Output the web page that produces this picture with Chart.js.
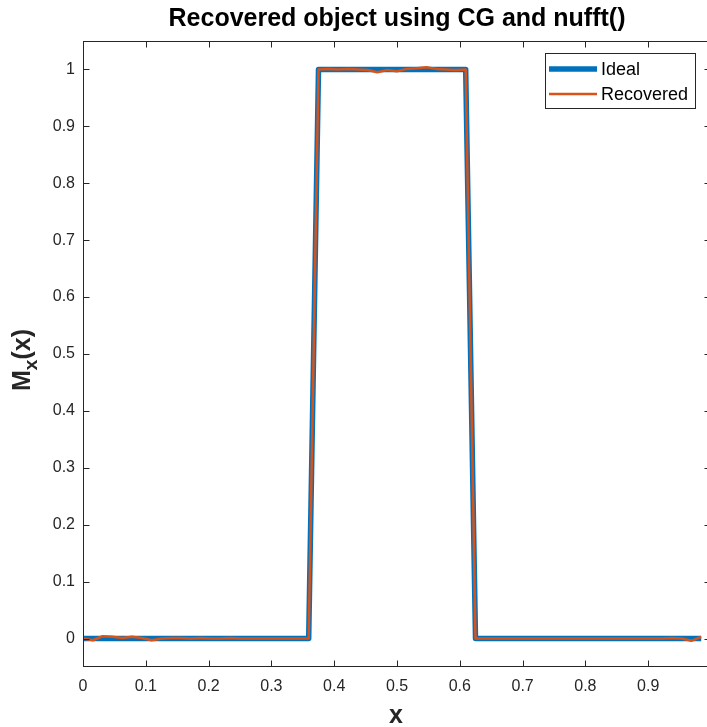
<!DOCTYPE html>
<html>
<head>
<meta charset="utf-8">
<script src="https://cdn.jsdelivr.net/npm/chart.js@4.4.1/dist/chart.umd.min.js"></script>
<style>
  html, body { margin: 0; padding: 0; background: #fff; overflow: hidden; width: 707px; height: 727px; }
  #wrap { width: 712px; height: 727px; }
</style>
</head>
<body>
<div id="wrap"><canvas id="c" width="712" height="727"></canvas></div>
<script>
// Sampling grid: 64 points on [0, 1)
const N = 64;
const sampleX = Array.from({ length: N }, (_, k) => k / N);

// Ideal rectangular object
const ideal = [
  0, 0, 0, 0, 0, 0, 0, 0, 0, 0, 0, 0, 0, 0, 0, 0,
  0, 0, 0, 0, 0, 0, 0, 0, 1, 1, 1, 1, 1, 1, 1, 1,
  1, 1, 1, 1, 1, 1, 1, 1, 0, 0, 0, 0, 0, 0, 0, 0,
  0, 0, 0, 0, 0, 0, 0, 0, 0, 0, 0, 0, 0, 0, 0, 0
];

// Object recovered by conjugate gradient with the NUFFT operator
const recovered = [
  0.000, -0.003, 0.004, 0.003, 0.001, 0.003, 0.001, -0.003,
  0.000, 0.001, 0.001, 0.000, 0.001, 0.000, 0.000, 0.001,
  0.000, 0.000, 0.000, 0.000, 0.000, 0.000, 0.000, 0.000,
  1.000, 1.001, 1.000, 1.001, 1.000, 0.999, 0.995, 0.999,
  0.997, 1.001, 1.002, 1.004, 1.001, 1.000, 0.999, 1.000,
  0.000, 0.000, 0.000, 0.000, 0.000, 0.000, 0.000, 0.000,
  0.000, 0.000, 0.000, 0.000, 0.000, 0.000, 0.000, 0.000,
  0.000, 0.000, 0.000, 0.000, 0.001, 0.000, -0.004, 0.003
];

const seriesNames = ['Ideal', 'Recovered'];
const seriesColors = ['#0072BD', '#D95319'];
const seriesWidths = [5.5, 2.5];

const xTicks = [0, 0.1, 0.2, 0.3, 0.4, 0.5, 0.6, 0.7, 0.8, 0.9];
const yTicks = [0, 0.1, 0.2, 0.3, 0.4, 0.5, 0.6, 0.7, 0.8, 0.9, 1];

const titleText = 'Recovered object using CG and nufft()';
const xLabel = 'x';
const yLabelParts = ['M', 'x', '(x)'];

const FONT = '"Liberation Sans", Arial, Helvetica, sans-serif';
const AXIS_COLOR = '#262626';

const fmt = v => String(Number(v.toFixed(3)));

// Box, inward tick marks, axis labels and legend, drawn on top of the plot
const decorations = {
  id: 'decorations',
  afterDraw(chart) {
    const { ctx, chartArea: a, scales } = chart;
    const L = Math.round(a.left) + 0.5, R = Math.round(a.right) - 0.5;
    const T = Math.round(a.top) + 0.5, B = Math.round(a.bottom) - 0.5;
    const tick = 6;
    ctx.save();
    ctx.strokeStyle = AXIS_COLOR;
    ctx.lineWidth = 1;
    ctx.strokeRect(L, T, R - L, B - T);
    ctx.beginPath();
    xTicks.forEach(v => {
      const px = Math.round(scales.x.getPixelForValue(v)) + 0.5;
      ctx.moveTo(px, B); ctx.lineTo(px, B - tick);
      ctx.moveTo(px, T); ctx.lineTo(px, T + tick);
    });
    yTicks.forEach(v => {
      const py = Math.round(scales.y.getPixelForValue(v)) + 0.5;
      ctx.moveTo(L, py); ctx.lineTo(L + tick, py);
      ctx.moveTo(R, py); ctx.lineTo(R - tick, py);
    });
    ctx.stroke();

    // x-axis label
    const cx = (a.left + a.right) / 2;
    ctx.fillStyle = AXIS_COLOR;
    ctx.font = 'bold 25px ' + FONT;
    ctx.textAlign = 'center';
    ctx.textBaseline = 'alphabetic';
    ctx.fillText(xLabel, cx - 1, 723);

    // y-axis label with subscript
    const big = 'bold 25px ' + FONT, small = 'bold 19px ' + FONT;
    ctx.font = big; const w0 = ctx.measureText(yLabelParts[0]).width;
    ctx.font = small; const w1 = ctx.measureText(yLabelParts[1]).width;
    ctx.font = big; const w2 = ctx.measureText(yLabelParts[2]).width;
    const total = w0 + w1 + w2;
    ctx.translate(30, 360);
    ctx.rotate(-Math.PI / 2);
    ctx.textAlign = 'left';
    let xx = -total / 2;
    ctx.font = big; ctx.fillText(yLabelParts[0], xx, 0); xx += w0;
    ctx.font = small; ctx.fillText(yLabelParts[1], xx, 7); xx += w1;
    ctx.font = big; ctx.fillText(yLabelParts[2], xx, 0);
    ctx.setTransform(1, 0, 0, 1, 0, 0);

    // legend
    const lx = 545.5, ly = 53.5, lw = 150, lh = 55;
    ctx.fillStyle = '#fff';
    ctx.fillRect(lx, ly, lw, lh);
    ctx.strokeStyle = AXIS_COLOR;
    ctx.lineWidth = 1;
    ctx.strokeRect(lx, ly, lw, lh);
    const rows = [69, 94];
    ctx.font = '18px ' + FONT;
    ctx.textAlign = 'left';
    ctx.textBaseline = 'middle';
    chart.data.datasets.forEach((ds, i) => {
      const y = rows[i];
      ctx.strokeStyle = ds.borderColor;
      ctx.lineWidth = ds.borderWidth;
      ctx.beginPath();
      ctx.moveTo(549, y); ctx.lineTo(597, y);
      ctx.stroke();
      ctx.fillStyle = '#000';
      ctx.fillText(ds.label, 601, y + 1);
    });
    ctx.restore();
  }
};

const toPoints = ys => ys.map((y, k) => ({ x: sampleX[k], y }));

new Chart(document.getElementById('c'), {
  type: 'line',
  data: {
    datasets: [
      {
        label: seriesNames[0], data: toPoints(ideal),
        borderColor: seriesColors[0], borderWidth: seriesWidths[0],
        pointRadius: 0, tension: 0, borderJoinStyle: 'round', order: 2
      },
      {
        label: seriesNames[1], data: toPoints(recovered),
        borderColor: seriesColors[1], borderWidth: seriesWidths[1],
        pointRadius: 0, tension: 0, borderJoinStyle: 'round', order: 1
      }
    ]
  },
  options: {
    responsive: false,
    animation: false,
    devicePixelRatio: 1,
    layout: { padding: { left: 0, right: 1, top: 0, bottom: 0 } },
    plugins: {
      legend: { display: false },
      tooltip: { enabled: false },
      title: {
        display: true, text: titleText, fullSize: false, color: '#000',
        font: { family: FONT, size: 25, weight: 'bold', lineHeight: 1.2 },
        padding: { top: 4, bottom: 7 }
      }
    },
    scales: {
      x: {
        type: 'linear', min: 0, max: 1,
        grid: { display: false, drawTicks: false }, border: { display: false },
        afterBuildTicks: s => { s.ticks = xTicks.map(v => ({ value: v })); },
        afterFit: s => { s.height = 60; },
        ticks: {
          color: AXIS_COLOR, padding: 10, maxRotation: 0, autoSkip: false,
          font: { family: FONT, size: 16 },
          callback: v => fmt(v)
        }
      },
      y: {
        type: 'linear', min: -0.05, max: 1.05,
        grid: { display: false, drawTicks: false }, border: { display: false },
        afterBuildTicks: s => { s.ticks = yTicks.map(v => ({ value: v })); },
        afterFit: s => { s.width = 83; },
        ticks: {
          color: AXIS_COLOR, padding: 8, autoSkip: false,
          font: { family: FONT, size: 16 },
          callback: v => fmt(v)
        }
      }
    }
  },
  plugins: [decorations]
});
</script>
</body>
</html>
